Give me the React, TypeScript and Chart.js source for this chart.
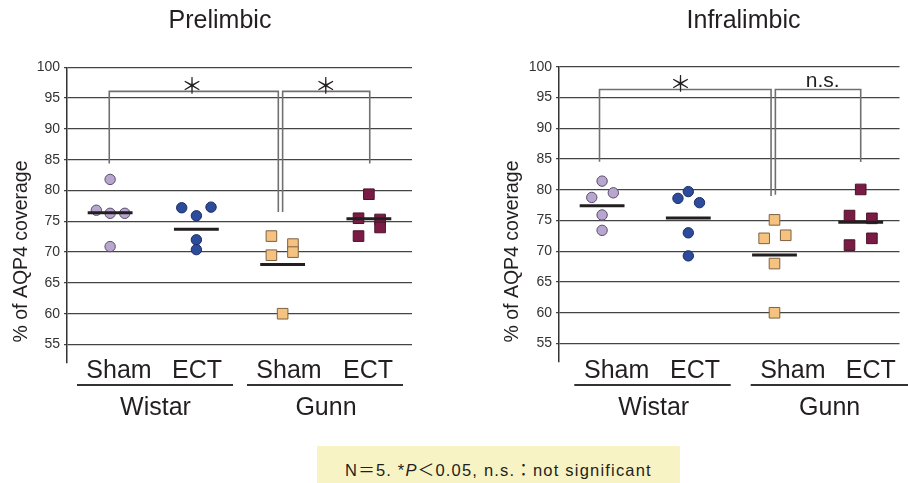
import React, { useEffect, useRef } from 'react';
import { Chart, registerables } from 'chart.js';

Chart.register(...registerables);

// ---------- data ----------
const PANEL_TITLES = ['Prelimbic', 'Infralimbic'];
const CONDITIONS = ['Sham', 'ECT', 'Sham', 'ECT'];
const STRAINS = ['Wistar', 'Gunn'];
const Y_TICKS = [55, 60, 65, 70, 75, 80, 85, 90, 95, 100];
const Y_TITLE = '% of AQP4 coverage';

// Prelimbic
const PL_WISTAR_SHAM = [81.8, 76.8, 76.3, 76.3, 70.9];
const PL_WISTAR_SHAM_JITTER = [0, -0.16, 0, 0.17, 0];
const PL_WISTAR_ECT = [77.2, 77.3, 75.9, 72.0, 70.4];
const PL_WISTAR_ECT_JITTER = [-0.17, 0.17, 0, 0, 0];
const PL_GUNN_SHAM = [72.6, 69.5, 71.3, 70.0, 60.0];
const PL_GUNN_SHAM_JITTER = [-0.13, -0.13, 0.12, 0.12, 0];
const PL_GUNN_ECT = [79.4, 75.5, 75.3, 74.0, 72.6];
const PL_GUNN_ECT_JITTER = [0, -0.12, 0.13, 0.13, -0.12];
const PL_MEANS = [76.4, 73.7, 68.0, 75.4];
const PL_BRACKETS = [
  { x1: 0.49, x2: 2.45, top: 96.1, leg1: 84.4, leg2: 76.5, label: '*', labelX: 1.45 },
  { x1: 2.5, x2: 3.51, top: 96.1, leg1: 76.5, leg2: 84.4, label: '*', labelX: 3.0 },
];

// Infralimbic
const IL_WISTAR_SHAM = [81.4, 78.75, 79.5, 75.9, 73.4];
const IL_WISTAR_SHAM_JITTER = [0, -0.12, 0.13, 0, 0];
const IL_WISTAR_ECT = [78.6, 79.7, 77.9, 73.0, 69.25];
const IL_WISTAR_ECT_JITTER = [-0.12, 0, 0.13, 0, 0];
const IL_GUNN_SHAM = [75.1, 72.1, 72.6, 68.0, 60.0];
const IL_GUNN_SHAM_JITTER = [0, -0.12, 0.13, 0, 0];
const IL_GUNN_ECT = [80.05, 75.8, 75.35, 72.1, 71.0];
const IL_GUNN_ECT_JITTER = [0, -0.13, 0.13, 0.13, -0.13];
const IL_MEANS = [77.4, 75.4, 69.4, 74.7];
const IL_BRACKETS = [
  { x1: 0.47, x2: 2.46, top: 96.3, leg1: 84.55, leg2: 79.0, label: '*', labelX: 1.41 },
  { x1: 2.51, x2: 3.5, top: 96.3, leg1: 79.2, leg2: 84.5, label: 'n.s.', labelX: 3.06 },
];

// ---------- styles ----------
const FILLS = ['#b7a6ce', '#2c4b9b', '#f6c27f', '#7a1b46'];
const EDGES = ['#5b4b6b', '#1a2c62', '#7d6243', '#4a1129'];
const SHAPES = ['circle', 'circle', 'rect', 'rect'];
const RADII = [5.2, 5.2, 7.5, 7.5];
const FONT = '"Liberation Sans", Arial, Helvetica, sans-serif';

type Bracket = { x1: number; x2: number; top: number; leg1: number; leg2: number; label: string; labelX: number };

type Layout = {
  canvasLeft: number;
  padding: { left: number; right: number; top: number; bottom: number };
  yWidth: number;
  xMax: number;
  titleX: number;
  yTitleX: number;
  catX: number[];
  lines: number[][];
  strainX: number[];
};

const LAYOUTS: Layout[] = [
  {
    canvasLeft: 0,
    padding: { left: 0, right: 42, top: 67.3, bottom: 120 },
    yWidth: 67,
    xMax: 4,
    titleX: 220,
    yTitleX: 27,
    catX: [119, 197, 289, 368],
    lines: [[77, 233], [247, 403]],
    strainX: [155.5, 326],
  },
  {
    canvasLeft: 454,
    padding: { left: 0, right: 0, top: 66.7, bottom: 121 },
    yWidth: 105,
    xMax: 3.95,
    titleX: 289.5,
    yTitleX: 63.5,
    catX: [162.7, 241, 338.8, 416.8],
    lines: [[120.3, 276.7], [296.7, 454]],
    strainX: [199.7, 375.7],
  },
];

const PANELS = [
  {
    title: PANEL_TITLES[0],
    groups: [PL_WISTAR_SHAM, PL_WISTAR_ECT, PL_GUNN_SHAM, PL_GUNN_ECT],
    jitter: [PL_WISTAR_SHAM_JITTER, PL_WISTAR_ECT_JITTER, PL_GUNN_SHAM_JITTER, PL_GUNN_ECT_JITTER],
    means: PL_MEANS,
    brackets: PL_BRACKETS,
  },
  {
    title: PANEL_TITLES[1],
    groups: [IL_WISTAR_SHAM, IL_WISTAR_ECT, IL_GUNN_SHAM, IL_GUNN_ECT],
    jitter: [IL_WISTAR_SHAM_JITTER, IL_WISTAR_ECT_JITTER, IL_GUNN_SHAM_JITTER, IL_GUNN_ECT_JITTER],
    means: IL_MEANS,
    brackets: IL_BRACKETS,
  },
];

const annotationPlugin = {
  id: 'annot',
  afterDraw(chart: any) {
    const o = chart.options.plugins.annot;
    if (!o) return;
    const ctx: CanvasRenderingContext2D = chart.ctx;
    const L: Layout = o.layout;
    const xs = chart.scales.x;
    const ys = chart.scales.y;
    ctx.save();
    ctx.fillStyle = '#231f20';
    ctx.textAlign = 'center';

    // panel title
    ctx.font = `25px ${FONT}`;
    ctx.textBaseline = 'middle';
    ctx.fillText(o.title, L.titleX, 21);

    // y title
    ctx.save();
    ctx.translate(L.yTitleX, 251.5);
    ctx.rotate(-Math.PI / 2);
    ctx.font = `19.5px ${FONT}`;
    ctx.textBaseline = 'alphabetic';
    ctx.fillText(Y_TITLE, 0, 0);
    ctx.restore();

    // category labels
    ctx.font = `25px ${FONT}`;
    ctx.textBaseline = 'alphabetic';
    CONDITIONS.forEach((c, i) => ctx.fillText(c, L.catX[i], 378));

    // group underlines
    ctx.strokeStyle = '#333';
    ctx.lineWidth = 2;
    L.lines.forEach(([a, b]) => {
      ctx.beginPath();
      ctx.moveTo(a, 385);
      ctx.lineTo(b, 385);
      ctx.stroke();
    });

    // strain labels
    STRAINS.forEach((s, i) => ctx.fillText(s, L.strainX[i], 415));

    // bracket labels
    (o.brackets as Bracket[]).forEach((b) => {
      const x = xs.getPixelForValue(b.labelX);
      const y = ys.getPixelForValue(b.top);
      if (b.label === '*') {
        ctx.font = `22px "Noto Sans CJK JP", ${FONT}`;
        ctx.textBaseline = 'middle';
        ctx.fillText('＊', x, y - 7);
      } else {
        ctx.font = `21px ${FONT}`;
        ctx.textBaseline = 'alphabetic';
        ctx.fillText(b.label, x, y - 2);
      }
    });
    ctx.restore();
  },
};

function buildConfig(idx: number): any {
  const P = PANELS[idx];
  const L = LAYOUTS[idx];
  const datasets: any[] = [];

  P.groups.forEach((vals, g) => {
    datasets.push({
      type: 'scatter',
      label: `${STRAINS[g < 2 ? 0 : 1]} ${CONDITIONS[g]}`,
      data: vals.map((v, i) => ({ x: g + 0.5 + P.jitter[g][i], y: v })),
      pointStyle: SHAPES[g],
      pointRadius: RADII[g],
      pointBackgroundColor: FILLS[g],
      pointBorderColor: EDGES[g],
      pointBorderWidth: 1,
      showLine: false,
      order: 2,
    });
  });

  const meanData: any[] = [];
  P.means.forEach((m, g) => {
    meanData.push({ x: g + 0.5 - 0.26, y: m });
    meanData.push({ x: g + 0.5 + 0.26, y: m });
    meanData.push({ x: g + 0.5 + 0.26, y: null });
  });
  datasets.push({
    type: 'line',
    label: 'mean',
    data: meanData,
    borderColor: '#231f20',
    borderWidth: 3,
    pointRadius: 0,
    spanGaps: false,
    tension: 0,
    order: 0,
  });

  P.brackets.forEach((b) => {
    datasets.push({
      type: 'line',
      label: 'bracket',
      data: [
        { x: b.x1, y: b.leg1 },
        { x: b.x1, y: b.top },
        { x: b.x2, y: b.top },
        { x: b.x2, y: b.leg2 },
      ],
      borderColor: '#707070',
      borderWidth: 1.6,
      pointRadius: 0,
      tension: 0,
      order: 1,
    });
  });

  return {
    type: 'scatter',
    data: { datasets },
    options: {
      animation: false,
      responsive: false,
      events: [],
      layout: { padding: L.padding },
      scales: {
        x: { type: 'linear', min: 0, max: L.xMax, display: false },
        y: {
          type: 'linear',
          min: 52,
          max: 100,
          afterBuildTicks: (s: any) => {
            s.ticks = Y_TICKS.map((v) => ({ value: v }));
          },
          afterFit: (s: any) => {
            s.width = L.yWidth;
          },
          ticks: { font: { family: FONT, size: 14 }, color: '#333', padding: 4 },
          grid: { color: '#444', lineWidth: 1.3, tickLength: 3, drawTicks: true },
          border: { display: true, color: '#333', width: 1.5 },
        },
      },
      plugins: {
        legend: { display: false },
        tooltip: { enabled: false },
        title: { display: false },
        annot: { layout: L, title: P.title, brackets: P.brackets },
      },
    },
    plugins: [annotationPlugin],
  };
}

function Panel({ idx }: { idx: number }) {
  const ref = useRef<HTMLCanvasElement>(null);
  useEffect(() => {
    const chart = new Chart(ref.current as HTMLCanvasElement, buildConfig(idx));
    return () => chart.destroy();
  }, [idx]);
  return (
    <canvas
      ref={ref}
      width={454}
      height={483}
      style={{ position: 'absolute', left: LAYOUTS[idx].canvasLeft, top: 0, width: 454, height: 483 }}
    />
  );
}

export default function App() {
  return (
    <div style={{ position: 'absolute', left: 0, top: 0, width: 908, height: 483, overflow: 'hidden', background: '#fff' }}>
      <Panel idx={0} />
      <Panel idx={1} />
      <div
        style={{
          position: 'absolute',
          left: 317,
          top: 446,
          width: 363,
          height: 37,
          background: '#f8f3c4',
          color: '#231f20',
          fontFamily: `${FONT}, "Noto Sans CJK JP"`,
          fontSize: 16.5,
          letterSpacing: '1.2px',
          lineHeight: '20px',
          paddingTop: 14,
          boxSizing: 'border-box',
          textAlign: 'center',
          whiteSpace: 'nowrap',
        }}
      >
        N＝5. *<i>P</i>＜0.05, n.s.：not significant
      </div>
    </div>
  );
}
